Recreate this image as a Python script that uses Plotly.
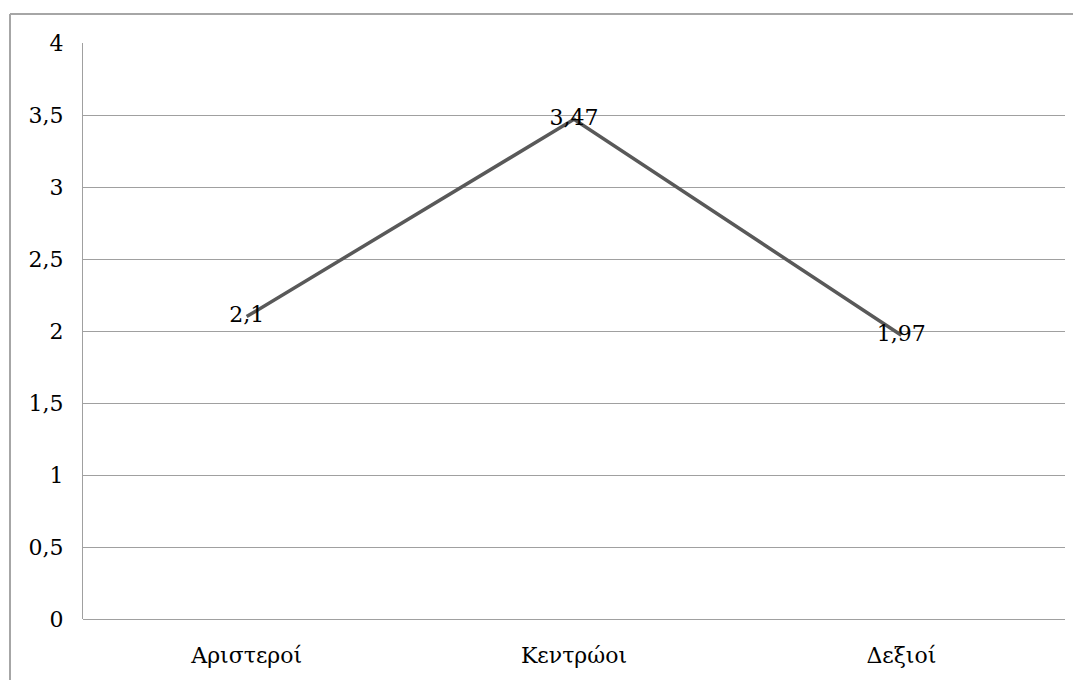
import plotly.graph_objects as go

categories = ["Αριστεροί", "Κεντρώοι", "Δεξιοί"]
values = [2.1, 3.47, 1.97]
value_labels = ["2,1", "3,47", "1,97"]

# page body adds an 8px offset, so the figure is laid out 8px smaller
OFF = 8
W, H = 1081 - OFF, 680 - OFF
ml, mr, mt, mb = 83 - OFF, 16, 43 - OFF, 61
pw, ph = W - ml - mr, H - mt - mb

FONT = "DejaVu Serif"
FS = 22

fig = go.Figure()
fig.add_trace(go.Scatter(
    x=categories, y=values, mode="lines+text",
    line=dict(color="#595959", width=3.5),
    text=value_labels, textposition="middle center",
    textfont=dict(family=FONT, size=FS, color="#000000"),
    hoverinfo="skip", showlegend=False,
))

# outer chart border (left and top visible)
bx = (10 - 83) / pw
by = (619 - 14) / ph
border = dict(color="#a6a6a6", width=2)
fig.add_shape(type="line", xref="paper", yref="paper", x0=bx, x1=bx, y0=-0.3, y1=by, line=border)
fig.add_shape(type="line", xref="paper", yref="paper", x0=bx, x1=1.2, y0=by, y1=by, line=border)

fig.update_layout(
    width=W, height=H,
    margin=dict(l=ml, r=mr, t=mt, b=mb, autoexpand=False),
    paper_bgcolor="white", plot_bgcolor="white",
    separators=",.",
    font=dict(family=FONT, size=FS, color="#000000"),
    xaxis=dict(
        type="category", range=[-0.5, 2.5], automargin=False,
        showgrid=False, zeroline=False, showline=False,
        ticks="", ticklabelstandoff=21,
        tickfont=dict(family=FONT, size=FS, color="#000000"),
    ),
    yaxis=dict(
        range=[0, 4], dtick=0.5, tick0=0, automargin=False,
        showgrid=True, gridcolor="#a0a0a0", gridwidth=1,
        zeroline=True, zerolinecolor="#a0a0a0", zerolinewidth=1,
        showline=True, linecolor="#a0a0a0", linewidth=1,
        ticks="", ticklabelstandoff=14,
        tickfont=dict(family=FONT, size=FS, color="#000000"),
        tickformat=",",
    ),
)

fig.write_html("out.html")
